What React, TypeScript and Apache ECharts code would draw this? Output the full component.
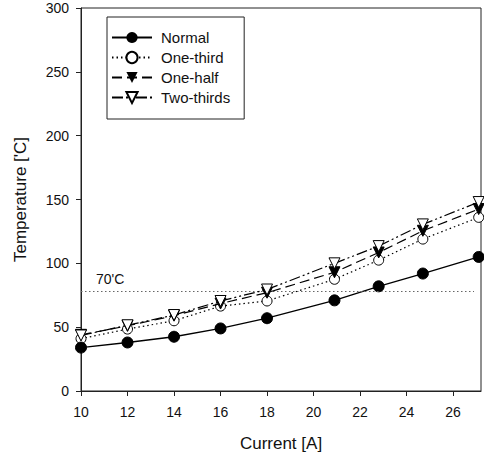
import React, { useEffect, useRef } from "react";
import * as echarts from "echarts";

const currents = [10, 12, 14, 16, 18, 20.9, 22.8, 24.7, 27.1];
const normal = [34, 38, 42.5, 49, 57, 71, 82, 92, 105];
const oneThird = [41, 48.5, 55, 66.5, 70.5, 87.5, 102.5, 119, 136];
const oneHalf = [44, 51, 59, 68.5, 77, 93, 108.5, 125.5, 142.5];
const twoThirds = [43.5, 51.5, 59.5, 70.5, 79.5, 100, 113.5, 130.5, 148];
const limitValue = 78;
const limitLabel = "70'C";
const seriesNames = ["Normal", "One-third", "One-half", "Two-thirds"];

const FONT = "'Liberation Sans', Arial, sans-serif";
const INK = "#111";

function pairs(vals: number[]) {
  return currents.map((c, i) => [c, vals[i]]);
}

export default function App() {
  const ref = useRef<HTMLDivElement>(null);
  useEffect(() => {
    if (!ref.current) return;
    const chart = echarts.init(ref.current, null, { renderer: "svg" });
    const base = {
      type: "line" as const,
      symbolSize: 10,
      showSymbol: true,
    };
    chart.setOption({
      animation: false,
      backgroundColor: "#fff",
      textStyle: { fontFamily: FONT, color: INK },
      grid: {
        left: 81,
        right: 3,
        top: 8,
        bottom: 65,
        show: true,
        borderColor: "#222",
        borderWidth: 1,
        backgroundColor: "transparent",
      },
      legend: {
        left: 107,
        top: 17,
        orient: "vertical",
        backgroundColor: "#fff",
        borderColor: "#222",
        borderWidth: 1,
        padding: [13, 14, 14, 4],
        itemGap: 5,
        itemWidth: 40,
        itemHeight: 14,
        textStyle: { fontFamily: FONT, fontSize: 15, color: INK, padding: [0, 0, 0, 4] },
        data: seriesNames,
      },
      xAxis: {
        type: "value",
        min: 10,
        max: 27.2,
        interval: 2,
        name: "Current [A]",
        nameLocation: "middle",
        nameGap: 44,
        nameTextStyle: { fontFamily: FONT, fontSize: 17, color: INK },
        axisLine: { show: true, onZero: false, lineStyle: { color: "#222", width: 1 } },
        axisTick: { show: true, inside: false, length: 5, lineStyle: { color: "#222" } },
        axisLabel: {
          fontFamily: FONT,
          fontSize: 14,
          color: INK,
          margin: 14,
          showMaxLabel: false,
        },
        splitLine: { show: false },
      },
      yAxis: {
        type: "value",
        min: 0,
        max: 300,
        interval: 50,
        name: "Temperature ['C]",
        nameLocation: "middle",
        nameGap: 52,
        nameTextStyle: { fontFamily: FONT, fontSize: 17, color: INK },
        axisLine: { show: true, lineStyle: { color: "#222", width: 1 } },
        axisTick: { show: true, inside: false, length: 5, lineStyle: { color: "#222" } },
        axisLabel: { fontFamily: FONT, fontSize: 14, color: INK, margin: 12 },
        splitLine: { show: false },
      },
      series: [
        {
          ...base,
          name: seriesNames[0],
          data: pairs(normal),
          symbol: "circle",
          symbolSize: 11,
          itemStyle: { color: "#000", borderColor: "#000" },
          lineStyle: { color: "#000", width: 1.3, type: "solid" },
          z: 4,
          markLine: {
            silent: true,
            symbol: "none",
            lineStyle: { color: "#666", width: 1, type: [1.5, 2.5] },
            label: {
              show: true,
              formatter: limitLabel,
              position: "insideStartTop",
              fontFamily: FONT,
              fontSize: 14,
              color: INK,
              padding: [0, 0, 0, 10],
            },
            data: [[{ coord: [10, limitValue] }, { coord: [26.9, limitValue] }]],
          },
        },
        {
          ...base,
          name: seriesNames[1],
          data: pairs(oneThird),
          symbol: "circle",
          symbolSize: 10,
          itemStyle: { color: "#fff", borderColor: "#000", borderWidth: 1 },
          lineStyle: { color: "#000", width: 1.2, type: [1.5, 3] },
          z: 3,
        },
        {
          ...base,
          name: seriesNames[2],
          data: pairs(oneHalf),
          symbol: "triangle",
          symbolRotate: 180,
          symbolSize: 11,
          itemStyle: { color: "#000", borderColor: "#000" },
          lineStyle: { color: "#000", width: 1.2, type: [10, 5] },
          z: 5,
        },
        {
          ...base,
          name: seriesNames[3],
          data: pairs(twoThirds),
          symbol: "triangle",
          symbolRotate: 180,
          symbolSize: 11,
          itemStyle: { color: "#fff", borderColor: "#000", borderWidth: 1 },
          lineStyle: { color: "#000", width: 1.2, type: [11, 3, 2, 3, 2, 3] },
          z: 6,
        },
      ],
    });
    return () => chart.dispose();
  }, []);
  return <div ref={ref} style={{ width: 484, height: 457, position: "absolute", left: 0, top: 0 }} />;
}
